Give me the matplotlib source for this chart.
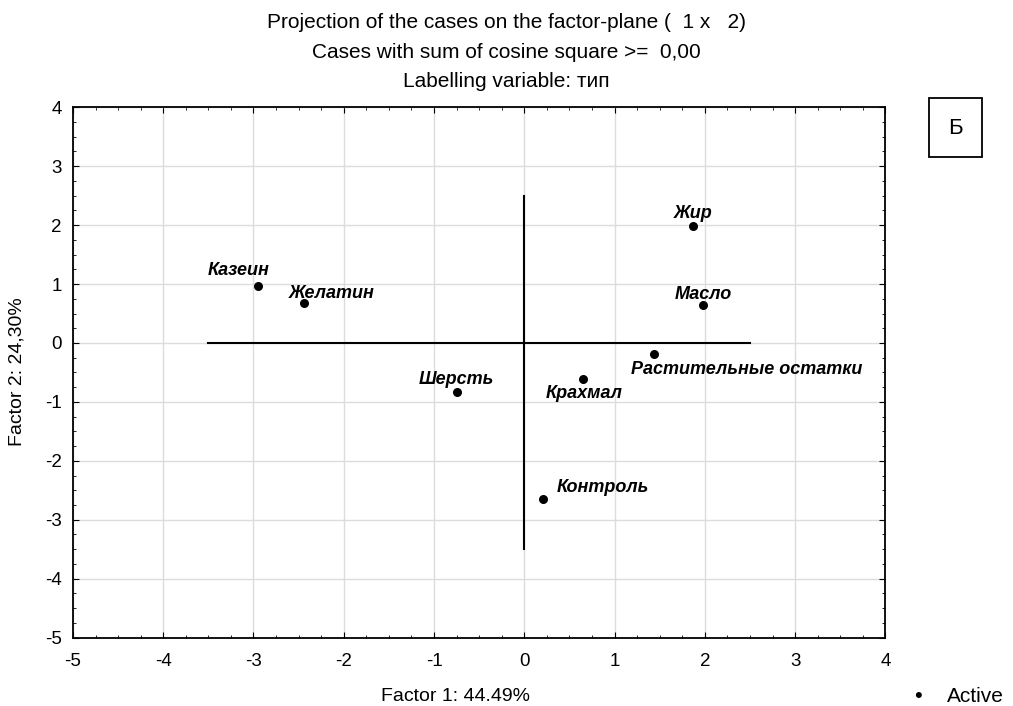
import matplotlib
matplotlib.use("Agg")
import matplotlib.pyplot as plt
from matplotlib.ticker import MultipleLocator, AutoMinorLocator
from matplotlib.patches import Rectangle

plt.rcParams['font.family'] = ['Liberation Sans', 'DejaVu Sans']
plt.rcParams['axes.unicode_minus'] = False

# factor scores of the cases
names = ['Казеин', 'Желатин', 'Шерсть', 'Контроль', 'Крахмал',
         'Растительные остатки', 'Жир', 'Масло']
factor1 = [-2.95, -2.44, -0.74, 0.21, 0.645, 1.44, 1.87, 1.98]
factor2 = [0.97, 0.67, -0.83, -2.65, -0.61, -0.19, 1.99, 0.64]
# label offsets in points (dx, dy to baseline) and alignment
offsets = [(8, 8, 'right'), (-11, 4, 'left'), (-1, 5.5, 'center'),
           (10, 5, 'left'), (1.5, -14, 'center'), (-16.5, -14.5, 'left'),
           (0, 5.5, 'center'), (0, 4.5, 'center')]

fig = plt.figure(figsize=(10.13, 7.06), dpi=100, facecolor='white')
ax = fig.add_axes([0.072, 0.097, 0.802, 0.751])

ax.set_xlim(-5, 4)
ax.set_ylim(-5, 4)
ax.xaxis.set_major_locator(MultipleLocator(1))
ax.yaxis.set_major_locator(MultipleLocator(1))
ax.xaxis.set_minor_locator(AutoMinorLocator(4))
ax.yaxis.set_minor_locator(AutoMinorLocator(4))
ax.grid(True, which='major', color='#dcdcdc', linewidth=1)
ax.set_axisbelow(True)
ax.tick_params(which='both', direction='in', top=True, right=True,
               labelsize=13.5, colors='black')
ax.tick_params(which='major', length=4)
ax.tick_params(which='minor', length=2)
ax.tick_params(axis='x', pad=11)
ax.tick_params(axis='y', pad=8)
for s in ax.spines.values():
    s.set_linewidth(1.3)

# axes cross through the origin
ax.plot([-3.5, 2.5], [0, 0], color='black', lw=1.5)
ax.plot([0, 0], [-3.5, 2.5], color='black', lw=1.5)

ax.scatter(factor1, factor2, s=30, color='black', zorder=3)
for x, y, n, (dx, dy, ha) in zip(factor1, factor2, names, offsets):
    ax.annotate(n, (x, y), xytext=(dx, dy), textcoords='offset points',
                ha=ha, va='baseline', fontsize=13,
                fontweight='bold', fontstyle='italic')

fig.text(0.5, 0.968, 'Projection of the cases on the factor-plane (  1 x   2)',
         ha='center', va='center', fontsize=15)
fig.text(0.5, 0.926, 'Cases with sum of cosine square >=  0,00',
         ha='center', va='center', fontsize=15)
fig.text(0.5, 0.884, 'Labelling variable: тип', ha='center', va='center',
         fontsize=15)
fig.text(0.45, 0.013, 'Factor 1: 44.49%', ha='center', va='center',
         fontsize=14)
fig.text(0.017, 0.473, 'Factor 2: 24,30%', ha='center', va='center',
         rotation=90, fontsize=14)

# panel letter
fig.patches.append(Rectangle((929 / 1013, 1 - 157 / 706), 53 / 1013, 59 / 706,
                             transform=fig.transFigure, fill=False,
                             edgecolor='black', lw=1.3))
fig.text(955 / 1013, 1 - 128 / 706, 'Б', ha='center', va='center', fontsize=16)

# legend entry
fig.text(918 / 1013, 1 - 697 / 706, '•', ha='center', va='center', fontsize=16)
fig.text(947 / 1013, 1 - 697 / 706, 'Active', ha='left', va='center',
         fontsize=15)

fig.savefig('out.png', dpi=100)
